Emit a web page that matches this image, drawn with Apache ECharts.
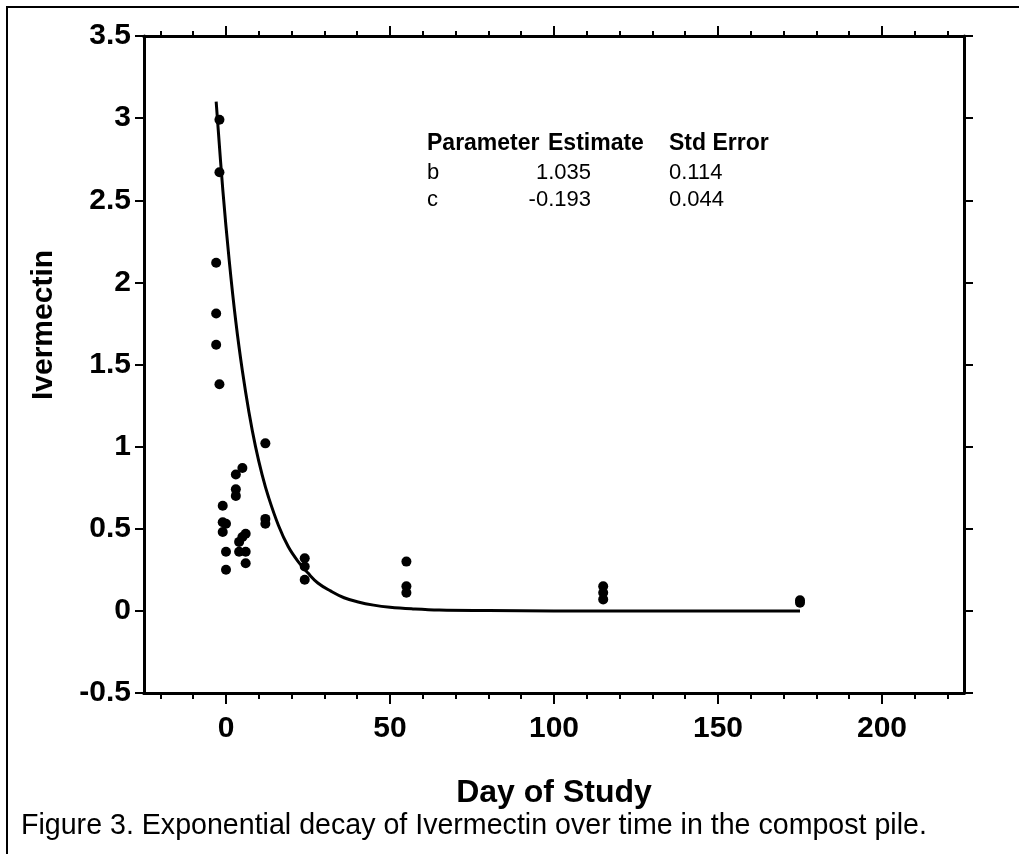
<!DOCTYPE html>
<html>
<head>
<meta charset="utf-8">
<script src="https://cdn.jsdelivr.net/npm/echarts@6/dist/echarts.min.js"></script>
<style>
html,body{margin:0;padding:0;background:#fff;}
#chart{width:1019px;height:854px;}
</style>
</head>
<body>
<div id="chart"></div>
<script>
// Observed data (Day of Study, Ivermectin)
var obsDays = [-2, -2, -3, -3, -3, -2,
  -1, -1, 0, -1, 0, 0,
  3, 5, 3, 3, 6, 5, 4, 4, 6, 6,
  12, 12, 12,
  24, 24, 24,
  55, 55, 55,
  115, 115, 115,
  175, 175];
var obsIvermectin = [2.99, 2.67, 2.12, 1.81, 1.62, 1.38,
  0.64, 0.54, 0.53, 0.48, 0.36, 0.25,
  0.83, 0.87, 0.74, 0.70, 0.47, 0.45, 0.42, 0.36, 0.36, 0.29,
  1.02, 0.56, 0.53,
  0.32, 0.27, 0.19,
  0.30, 0.15, 0.11,
  0.15, 0.11, 0.07,
  0.065, 0.05];
// Fitted curve
var fitDays = [-3, -1, 1, 3, 5, 7, 9, 11, 13, 16, 19, 22, 25, 28, 32, 36, 40, 45, 50, 57, 65, 80, 100, 140, 175];
var fitIvermectin = [3.10, 2.57, 2.13, 1.76, 1.46, 1.21, 1.00, 0.83, 0.69, 0.52, 0.39, 0.30, 0.23, 0.17, 0.12, 0.08, 0.056, 0.035, 0.022, 0.012, 0.005, 0.002, 0.0, 0.0, 0.0];
// Axis ticks
var xMajorTicks = [0, 50, 100, 150, 200];
var xMinorTicks = [-20, -10, 10, 20, 30, 40, 60, 70, 80, 90, 110, 120, 130, 140, 160, 170, 180, 190, 210, 220];
// Parameter table
var tableHeader = ['Parameter', 'Estimate', 'Std Error'];
var tableParams = ['b', 'c'];
var tableEstimates = ['1.035', '-0.193'];
var tableStdErrors = ['0.114', '0.044'];

var chart = echarts.init(document.getElementById('chart'), null, {renderer: 'canvas'});
var FONT = '"Liberation Sans", Arial, Helvetica, sans-serif';
var axisLineStyle = {color: '#000', width: 3};
var tickStyle = {color: '#000', width: 2};
var labelStyle = {color: '#000', fontFamily: FONT, fontWeight: 'bold', fontSize: 30};

function xAxisDef(pos, ticks, len, labels) {
  return {
    type: 'value', position: pos, min: -25, max: 225,
    axisLine: {show: true, onZero: false, lineStyle: axisLineStyle},
    axisTick: {show: true, inside: false, length: len, customValues: ticks, lineStyle: tickStyle},
    axisLabel: labels ? Object.assign({show: true, customValues: ticks, margin: 21}, labelStyle) : {show: false},
    splitLine: {show: false}
  };
}

var data = obsDays.map(function (d, i) { return [d, obsIvermectin[i]]; });
var fit = fitDays.map(function (d, i) { return [d, fitIvermectin[i]]; });

var graphics = [
  {type: 'polyline', shape: {points: [[7, 870], [7, 7], [1030, 7]]}, style: {stroke: '#000', lineWidth: 2, fill: null}},
  {type: 'text', x: 44, y: 325, rotation: Math.PI / 2,
   style: {text: 'Ivermectin', fontFamily: FONT, fontWeight: 'bold', fontSize: 30, fill: '#000', align: 'center', verticalAlign: 'middle'}},
  {type: 'text', x: 21, y: 826,
   style: {text: 'Figure 3. Exponential decay of Ivermectin over time in the compost pile.', fontFamily: FONT, fontSize: 28.6, fill: '#000', align: 'left', verticalAlign: 'middle'}}
];
var headX = [427, 548, 669];
var rowY = [144, 173, 200];
tableHeader.forEach(function (t, i) {
  graphics.push({type: 'text', x: headX[i], y: rowY[0], style: {text: t, fontFamily: FONT, fontWeight: 'bold', fontSize: 23, fill: '#000', align: 'left', verticalAlign: 'middle'}});
});
tableParams.forEach(function (p, r) {
  graphics.push({type: 'text', x: 427, y: rowY[r + 1], style: {text: p, fontFamily: FONT, fontSize: 22, fill: '#000', align: 'left', verticalAlign: 'middle'}});
  graphics.push({type: 'text', x: 591, y: rowY[r + 1], style: {text: tableEstimates[r], fontFamily: FONT, fontSize: 22, fill: '#000', align: 'right', verticalAlign: 'middle'}});
  graphics.push({type: 'text', x: 669, y: rowY[r + 1], style: {text: tableStdErrors[r], fontFamily: FONT, fontSize: 22, fill: '#000', align: 'left', verticalAlign: 'middle'}});
});

var option = {
  backgroundColor: '#fff',
  animation: false,
  grid: {left: 144, right: 55, top: 36, bottom: 161, containLabel: false},
  xAxis: [
    xAxisDef('bottom', xMinorTicks, 6, false),
    Object.assign(xAxisDef('bottom', xMajorTicks, 11, true), {
      name: 'Day of Study', nameLocation: 'middle', nameGap: 84,
      nameTextStyle: {color: '#000', fontFamily: FONT, fontWeight: 'bold', fontSize: 32}
    }),
    xAxisDef('top', xMinorTicks, 5, false),
    xAxisDef('top', xMajorTicks, 10, false)
  ],
  yAxis: [
    {type: 'value', position: 'left', min: -0.5, max: 3.5, interval: 0.5,
     axisLine: {show: true, onZero: false, lineStyle: axisLineStyle},
     axisTick: {show: true, length: 9, lineStyle: tickStyle},
     axisLabel: Object.assign({margin: 13}, labelStyle),
     splitLine: {show: false}},
    {type: 'value', position: 'right', min: -0.5, max: 3.5, interval: 0.5,
     axisLine: {show: true, onZero: false, lineStyle: axisLineStyle},
     axisTick: {show: true, length: 9, lineStyle: tickStyle},
     axisLabel: {show: false},
     splitLine: {show: false}}
  ],
  series: [
    {type: 'line', xAxisIndex: 0, yAxisIndex: 0, data: fit, smooth: 0.4, showSymbol: false,
     lineStyle: {color: '#000', width: 3}, z: 2},
    {type: 'scatter', xAxisIndex: 0, yAxisIndex: 0, data: data, symbol: 'circle', symbolSize: 10,
     itemStyle: {color: '#000', opacity: 1}, z: 3}
  ],
  graphic: graphics
};
chart.setOption(option);
</script>
</body>
</html>
